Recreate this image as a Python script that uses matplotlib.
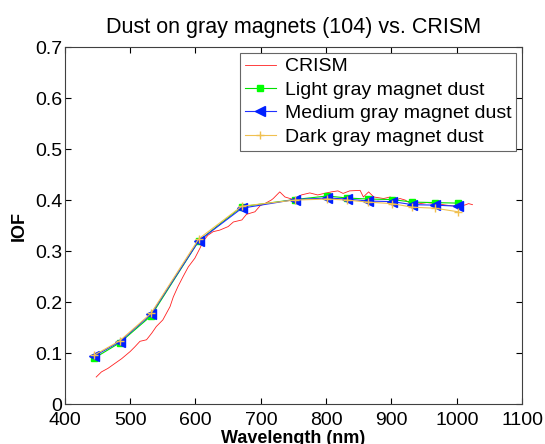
import matplotlib
matplotlib.use('Agg')
import matplotlib.pyplot as plt

'''Data read off the reference'''

# CRISM spectrum
crism_wl = [448, 456, 466, 477, 487, 500, 507, 515, 525, 533, 540, 550, 561, 566, 573,
            581, 589, 599, 607, 612, 619, 627, 637, 650, 658, 671, 678, 691, 699, 706,
            716, 719, 729, 737, 750, 762, 775, 787, 797, 808, 818, 826, 836, 852, 857,
            865, 873, 888, 898, 906, 913, 921, 928, 939, 954, 969, 984, 997, 1005, 1012,
            1018, 1024]
crism_iof = [0.053, 0.063, 0.070, 0.080, 0.089, 0.103, 0.112, 0.123, 0.126, 0.139, 0.152, 0.165, 0.191, 0.210, 0.230,
             0.250, 0.269, 0.286, 0.306, 0.320, 0.331, 0.338, 0.341, 0.348, 0.357, 0.361, 0.372, 0.377, 0.389, 0.393,
             0.400, 0.403, 0.416, 0.406, 0.401, 0.410, 0.414, 0.410, 0.413, 0.416, 0.418, 0.413, 0.418, 0.419, 0.406,
             0.416, 0.406, 0.403, 0.406, 0.400, 0.403, 0.400, 0.394, 0.392, 0.395, 0.393, 0.390, 0.388, 0.392, 0.390,
             0.393, 0.391]

# magnet filters
wl = [445, 484, 532, 605, 671, 752, 802, 832, 864, 901, 932, 967, 1002]
light = [0.090, 0.120, 0.173, 0.320, 0.387, 0.401, 0.408, 0.404, 0.402, 0.401, 0.396, 0.395, 0.394]
medium = [0.094, 0.122, 0.176, 0.320, 0.384, 0.401, 0.404, 0.402, 0.398, 0.397, 0.391, 0.390, 0.388]
dark = [0.096, 0.124, 0.178, 0.324, 0.388, 0.400, 0.402, 0.400, 0.396, 0.393, 0.386, 0.384, 0.377]

'''PLOT GRAPH'''

plt.rcParams['font.family'] = ['Liberation Sans', 'DejaVu Sans']

fig = plt.figure(figsize=(5.45, 4.44), dpi=100)
ax = fig.add_axes([0.119, 0.090, 0.839, 0.804])

ax.plot(crism_wl, crism_iof, color='#ff2020', linewidth=0.6, label='CRISM')
ax.plot(wl, light, color='#00e000', linewidth=0.8, marker='s', markersize=5,
        markerfacecolor='#00ff00', markeredgecolor='#00ff00', label='Light gray magnet dust')
ax.plot(wl, medium, color='#2030ff', linewidth=0.8, marker='<', markersize=7,
        markerfacecolor='#0020ff', markeredgecolor='#0020ff', label='Medium gray magnet dust')
ax.plot(wl, dark, color='#f0c050', linewidth=0.8, marker='+', markersize=6,
        label='Dark gray magnet dust')

ax.set_xlim(400, 1100)
ax.set_ylim(0, 0.7)
ax.set_xticks(range(400, 1101, 100))
ax.set_yticks([0, 0.1, 0.2, 0.3, 0.4, 0.5, 0.6, 0.7])
ax.set_yticklabels(['0', '0.1', '0.2', '0.3', '0.4', '0.5', '0.6', '0.7'])
ax.tick_params(direction='in', top=True, right=True, labelsize=14, length=4)
ax.tick_params(axis='x', pad=6)
ax.tick_params(axis='y', pad=2)
for s in ax.spines.values():
    s.set_color('#404040')

ax.set_xlabel('Wavelength (nm)', fontsize=13, fontweight='bold', labelpad=0.5)
ax.set_ylabel('IOF', fontsize=13, fontweight='bold', labelpad=5)
ax.set_title('Dust on gray magnets (104) vs. CRISM', fontsize=15.5, pad=10)

leg = ax.legend(loc='upper right', fontsize=14, handlelength=1.6, handletextpad=0.45,
                borderpad=0.25, labelspacing=0.3, borderaxespad=0.3, fancybox=False)
leg.get_frame().set_edgecolor('#404040')
leg.get_frame().set_linewidth(0.8)

fig.savefig('out.png', dpi=100)
